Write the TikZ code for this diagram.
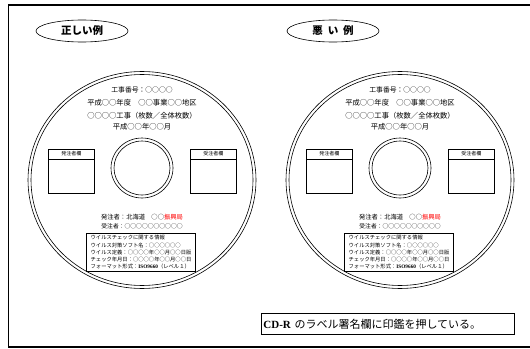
\documentclass[tikz,border=0pt]{standalone}
\usepackage{fontspec}
\setmainfont{Noto Sans CJK JP}
\newfontfamily\latinserif{Liberation Serif}
\usetikzlibrary{positioning}
\usetikzlibrary{shapes.geometric}
\tikzset{
    frame/.style = {line width=1.6pt},
    title/.style = {draw,ellipse,semithick,minimum width=92pt,minimum height=22pt,inner sep=0,font=\fontsize{10.5}{12}\selectfont\bfseries},
    disc/.style = {line width=0.6pt},
    discline/.style = {inner sep=0,font=\fontsize{7.3}{8}\selectfont},
    smallline/.style = {inner sep=0,font=\fontsize{6.3}{7}\selectfont},
    field/.style = {draw,line width=0.8pt,minimum width=46pt,minimum height=44pt,inner sep=0,anchor=north west},
    fieldhead/.style = {inner sep=0,font=\fontsize{5}{5}\selectfont},
    info/.style = {draw,line width=1pt,inner sep=2pt,minimum width=109pt,anchor=north west,align=left,font=\fontsize{5.3}{7.2}\selectfont},
    note/.style = {draw,line width=0.8pt,minimum height=21pt,inner xsep=2pt,text width=249pt,align=left,anchor=north west,font=\fontsize{11}{12}\selectfont}
}

\begin{document}
\begin{tikzpicture}[x=1pt,y=-1pt]
        \useasboundingbox (0,0) rectangle (530,348);
        % Frame
        \draw[frame] (8.5,5) rectangle (545,347);
        % Titles
        \node[title] (good) at (82,31) {正しい例};
        \node[title] (bad) at (333,31) {悪\hspace{5pt}い\hspace{5pt}例};
        % Discs
        \foreach \cx/\d in {142/l,400/r} {
            \draw[disc] (\cx,180) ellipse [x radius=114pt,y radius=108.5pt]
                (\cx,180) ellipse [x radius=111pt,y radius=105.5pt];
            \draw[disc] (\cx,168) ellipse [x radius=31pt,y radius=30pt]
                (\cx,168) ellipse [x radius=28pt,y radius=27pt];
            % Texts
            \node[smallline,font=\fontsize{6.8}{7}\selectfont] (\d-no) at (\cx,90) {工事番号：○○○○};
            \node[discline] (\d-year) at (\cx,103) {平成○○年度　○○事業○○地区};
            \node[discline] (\d-work) at (\cx,116) {○○○○工事（枚数／全体枚数）};
            \node[discline] (\d-month) at (\cx,127) {平成○○年○○月};
            % Fields
            \node[field] (\d-order) at (\cx-94,149) {};
            \node[field] (\d-contr) at (\cx+48,149) {};
            \foreach \f/\txt in {order/発注者欄,contr/受注者欄} {
                \node[fieldhead,below=2.5pt of \d-\f.north] (\d-\f-head) {\txt};
                \draw[line width=0.8pt] ([yshift=-10pt]\d-\f.north west)
                    to ([yshift=-10pt]\d-\f.north east);
            }
            \node[smallline] (\d-client) at (\cx,217) {発注者：北海道　○○\textcolor{red}{振興局}};
            \node[smallline,font=\fontsize{5.8}{7}\selectfont] (\d-maker) at (\cx,226) {受注者：○○○○○○○○○○};
            % Virus check
            \node[info] (\d-info) at (\cx-56,233) {ウイルスチェックに関する情報\\
                ウイルス対策ソフト名：○○○○○○\\
                ウイルス定義：○○○○年○○月○○日版\\
                チェック年月日：○○○○年○○月○○日\\
                フォーマット形式：{\latinserif\bfseries ISO9660}（レベル１）};
        }
        % Note
        \node[note] (note) at (261,313) {{\latinserif\bfseries CD-R} のラベル署名欄に印鑑を押している。};
    \end{tikzpicture}
\end{document}
